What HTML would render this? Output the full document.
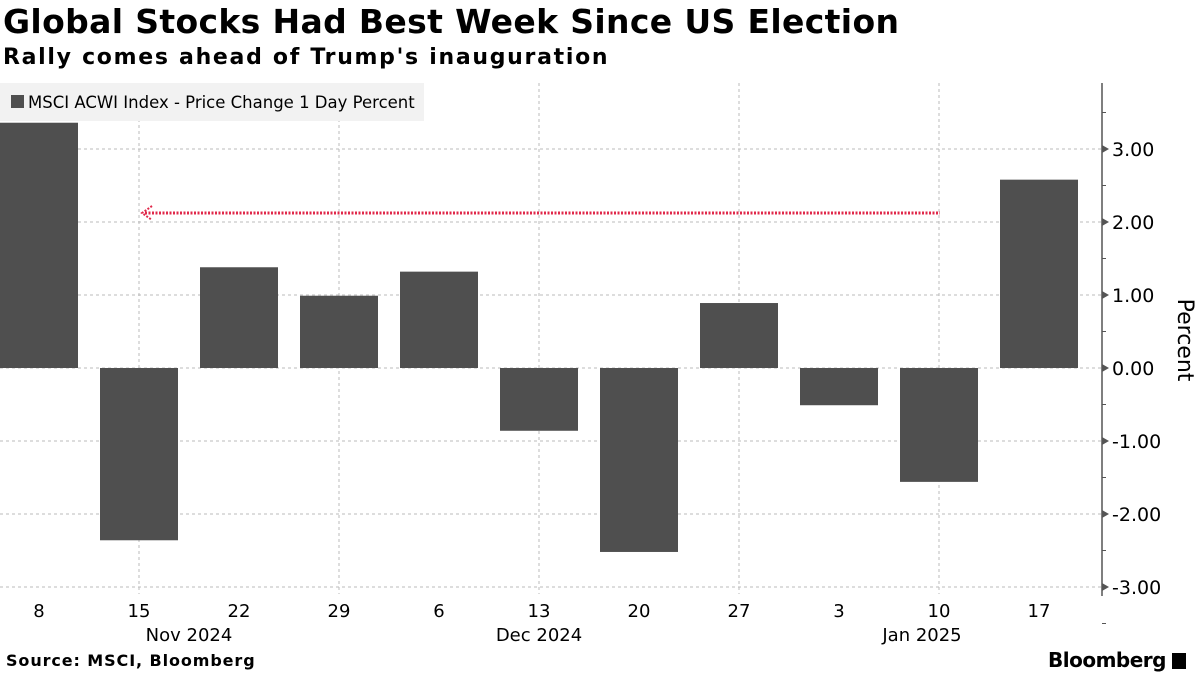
<!DOCTYPE html>
<html><head><meta charset="utf-8"><style>
body{margin:0;width:1200px;height:675px;background:#fff;font-family:"DejaVu Sans","Liberation Sans",sans-serif;overflow:hidden;position:relative}
.t{position:absolute;white-space:nowrap}
</style></head><body>
<div class="t" style="left:3px;top:2px;font-size:33px;font-weight:bold;color:#000;letter-spacing:0.35px">Global Stocks Had Best Week Since US Election</div>
<div class="t" style="left:3px;top:45px;font-size:22px;font-weight:bold;color:#000;letter-spacing:1.7px">Rally comes ahead of Trump's inauguration</div>
<svg id="c" width="1200" height="675" style="position:absolute;left:0;top:0"></svg>
<div class="t" style="left:6px;top:651px;font-size:16px;font-weight:bold;letter-spacing:0.9px">Source: MSCI, Bloomberg</div>
<div class="t" style="left:1048px;top:648px;font-size:20px;font-weight:bold;letter-spacing:-0.5px">Bloomberg <span style="display:inline-block;width:14px;height:16px;background:#000;vertical-align:-2px"></span></div>
<script>
const categories=["8","15","22","29","6","13","20","27","3","10","17"];
const values=[3.36,-2.36,1.38,0.99,1.32,-0.86,-2.52,0.89,-0.51,-1.56,2.58];
const yTicks=[3,2,1,0,-1,-2,-3];
const monthLabels=["Nov 2024","Dec 2024","Jan 2025"];
const monthPos=[1.5,5,8.83];
const svg=document.getElementById('c');const NS='http://www.w3.org/2000/svg';
function y(v){return 368-v*73;}
function x(i){return 39+i*100;}
function mk(t,a,txt){const e=document.createElementNS(NS,t);for(const k in a)e.setAttribute(k,a[k]);if(txt!==undefined)e.textContent=txt;svg.appendChild(e);return e;}
for(const v of yTicks){const g=mk('line',{x1:0,x2:1102,y1:y(v),y2:y(v),stroke:'#bbb','stroke-dasharray':'3,3','stroke-width':1});

}
for(let i=1;i<categories.length;i+=2){const g=mk('line',{x1:x(i),x2:x(i),y1:83,y2:594,stroke:'#bbb','stroke-dasharray':'3,3'});

}
const lb=mk('rect',{x:0,y:83,width:424,height:38,fill:'#f2f2f2'});


mk('rect',{x:11,y:95,width:13,height:13,fill:'#4f4f4f'});
const lt=mk('text',{x:28,y:108,'font-size':16.5,fill:'#000'},'MSCI ACWI Index - Price Change 1 Day Percent');


values.forEach((v,i)=>{const b=mk('rect',{x:x(i)-39,y:Math.min(y(v),y(0)),width:78,height:Math.abs(y(v)-y(0)),fill:'#4f4f4f'});


const l=mk('text',{x:x(i),y:617,'font-size':18,'text-anchor':'middle'},categories[i]);

});
monthLabels.forEach((m,k)=>{const l=mk('text',{x:x(monthPos[k]),y:641,'font-size':18,'text-anchor':'middle'},m);

});
const ar=mk('line',{x1:145,x2:940,y1:213,y2:213,stroke:'#e0284a','stroke-width':3,'stroke-dasharray':'2,1.5'});


mk('polyline',{points:'152,206 142,213 152,220',fill:'none',stroke:'#e0284a','stroke-width':2,'stroke-dasharray':'2,1.5'});
const ax=mk('line',{x1:1102,x2:1102,y1:83,y2:596,stroke:'#555','stroke-width':1.5});


for(let v=-3.5;v<=3.5;v+=0.5){if(Number.isInteger(v))continue;mk('line',{x1:1102,x2:1106,y1:y(v),y2:y(v),stroke:'#555'});}
yTicks.forEach(v=>{mk('polygon',{points:`1102,${y(v)-4} 1109,${y(v)} 1102,${y(v)+4}`,fill:'#555'});
const t=mk('text',{x:1112,y:y(v)+7,'font-size':19},v.toFixed(2));

});
const yt=mk('text',{x:0,y:0,'font-size':22,'text-anchor':'middle',transform:'translate(1178,340) rotate(90)'},'Percent');


</script>
</body></html>
